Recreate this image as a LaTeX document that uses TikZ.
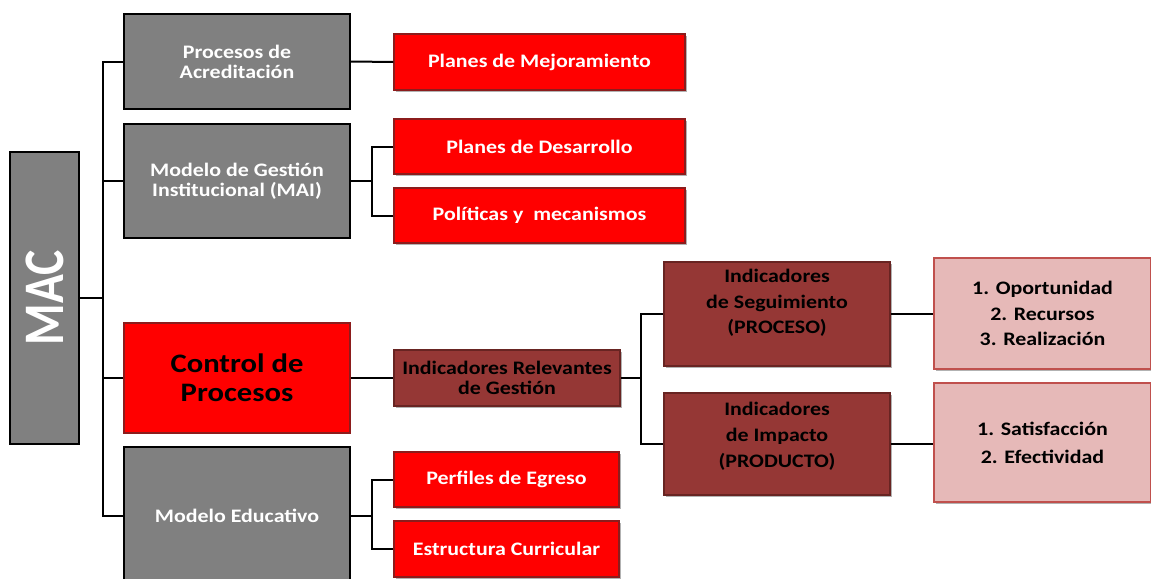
\documentclass[tikz,border=0pt]{standalone}
\usepackage{fontspec}
\setmainfont{Carlito}[FakeStretch=1.15]
\newfontfamily\macfont{Carlito}[FakeStretch=0.83]
\usetikzlibrary{shadows}
\definecolor{gbox}{HTML}{808080}
\definecolor{rbox}{HTML}{FF0000}
\definecolor{rborder}{HTML}{8C1C1C}
\definecolor{dred}{HTML}{953735}
\definecolor{dredb}{HTML}{682422}
\definecolor{pinkf}{HTML}{E6B9B8}
\definecolor{pinkb}{HTML}{C0504D}
\tikzset{
  base/.style={rectangle, inner sep=0pt, align=center},
  spanbox/.style args={#1/#2/#3/#4}{minimum width={(#3-#1)*0.75pt}, minimum height={(#4-#2)*0.75pt},
    at={({(#1+#3)/2},{(#2+#4)/2})}},
  shad/.style={drop shadow={shadow xshift=1.5pt, shadow yshift=-1.5pt, opacity=0.3, fill=black}},
  graybox/.style={base, draw=black, line width=1.5pt, fill=gbox, text=white,
    font=\fontsize{14.3}{15}\selectfont\bfseries},
  redbox/.style={base, shad, draw=rborder, line width=1.1pt, fill=rbox, text=white,
    font=\fontsize{14.3}{15}\selectfont\bfseries},
  ctrlbox/.style={base, draw=rborder, line width=1.3pt, fill=rbox, text=black,
    font=\fontsize{20}{22}\selectfont\bfseries},
  dredbox/.style={base, shad, draw=dredb, line width=1.3pt, fill=dred, text=black,
    font=\fontsize{14.3}{15}\selectfont\bfseries},
  pinkbox/.style={base, shad, draw=pinkb, line width=1.1pt, fill=pinkf, text=black,
    font=\fontsize{14.3}{19}\selectfont\bfseries},
  conn/.style={draw=black, line width=1.5pt},
}
\begin{document}
\begin{tikzpicture}[x=0.75pt,y=-0.75pt]
\useasboundingbox (0,0) rectangle (1151,578);
% level 0
\node[graybox, spanbox=10/152/79/444] (mac) {\rotatebox{90}{\macfont\fontsize{43}{43}\selectfont\bfseries MAC}};
% level 1
\node[graybox, spanbox=124/14/350/109] (pa) {Procesos de\\Acreditación};
\node[graybox, spanbox=124/124/350/238] (mai) {Modelo de Gestión\\Institucional (MAI)};
\node[ctrlbox, spanbox=124/323/350/433] (cp) {Control de\\Procesos};
\node[graybox, spanbox=124/447/350/585] (me) {Modelo Educativo};
% level 2
\node[redbox, spanbox=394/34/685/90] (pm) {Planes de Mejoramiento};
\node[redbox, spanbox=394/119/685/174] (pd) {Planes de Desarrollo};
\node[redbox, spanbox=394/188/685/243] (pol) {Políticas y\ \ mecanismos};
\node[dredbox, spanbox=394/350/620/406] (irg) {Indicadores Relevantes\\de Gestión};
\node[redbox, spanbox=394/452/619/507] (pe) {Perfiles de Egreso};
\node[redbox, spanbox=394/521/619/577] (ec) {Estructura Curricular};
% level 3
\node[dredbox, font=\fontsize{14.3}{19}\selectfont\bfseries, spanbox=664/262/890/366] (seg) {Indicadores\\de Seguimiento\\(PROCESO)\\\mbox{}};
\node[dredbox, font=\fontsize{14.3}{19.5}\selectfont\bfseries, spanbox=664/393/890/495] (imp) {Indicadores\\de Impacto\\(PRODUCTO)\\[-6pt]\mbox{}};
% level 4
\node[pinkbox, spanbox=934/258/1151/369] (op) {1. Oportunidad\\2. Recursos\\3. Realización};
\node[pinkbox, font=\fontsize{14.3}{21}\selectfont\bfseries, spanbox=934/383/1151/502] (sat) {1. Satisfacción\\2. Efectividad};
% connectors
\coordinate (t0) at (103,298);
\draw[conn] (mac.east) -- (t0);
\draw[conn] (pa.west) -| (t0);
\draw[conn] (mai.west) -| (t0);
\draw[conn] (cp.west) -| (t0);
\draw[conn] (me.west) -| (t0);
\draw[conn] (pa.east) -- (pm.west);
\coordinate (t1) at (372,181);
\draw[conn] (mai.east) -- (t1);
\draw[conn] (pd.west) -| (t1);
\draw[conn] (pol.west) -| (t1);
\draw[conn] (cp.east) -- (irg.west);
\coordinate (t2) at (641,378);
\draw[conn] (irg.east) -- (t2);
\draw[conn] (seg.west) -| (t2);
\draw[conn] (imp.west) -| (t2);
\draw[conn] (seg.east) -- (op.west |- seg.east);
\draw[conn] (imp.east) -- (sat.west |- imp.east);
\coordinate (t3) at (372,516);
\draw[conn] (me.east) -- (t3);
\draw[conn] (pe.west) -| (t3);
\draw[conn] (ec.west) -| (t3);
\end{tikzpicture}
\end{document}
